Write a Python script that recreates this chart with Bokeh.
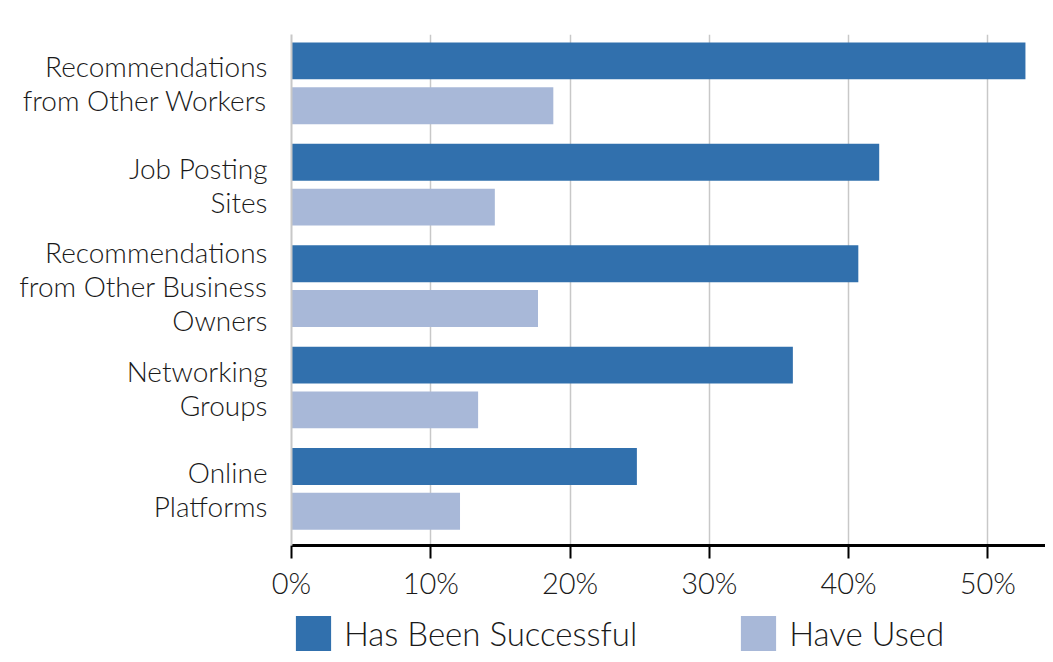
from bokeh.plotting import figure
from bokeh.layouts import column
from bokeh.models import ColumnDataSource, FixedTicker, Legend, LegendItem, Range1d
from bokeh.embed import file_html
from bokeh.resources import INLINE

# ---- data ----
categories = [
    "Recommendations\nfrom Other Workers",
    "Job Posting\nSites",
    "Recommendations\nfrom Other Business\nOwners",
    "Networking\nGroups",
    "Online\nPlatforms",
]
has_been_successful = [52.7, 42.2, 40.7, 36.0, 24.8]
have_used = [18.8, 14.6, 17.7, 13.4, 12.1]
x_ticks = [0, 10, 20, 30, 40, 50]
x_tick_labels = ["0%", "10%", "20%", "30%", "40%", "50%"]
series_names = ["Has Been Successful", "Have Used"]

DARK = "#3170ad"
LIGHT = "#a8b8d8"
FONT = "Lato Light"

pos = list(range(len(categories)))
offset = 0.221
bar_h = 0.364

src_dark = ColumnDataSource(dict(y=[p - offset for p in pos], v=has_been_successful))
src_light = ColumnDataSource(dict(y=[p + offset for p in pos], v=have_used))

p = figure(width=1045, height=602, output_backend="svg", toolbar_location=None,
           x_range=Range1d(0, 54.14), y_range=Range1d(4.558, -0.481),
           min_border_left=291, min_border_right=0, min_border_top=34,
           min_border_bottom=55)
p.outline_line_color = None
p.background_fill_color = "white"
p.border_fill_color = "white"

p.hbar(y="y", right="v", left=0, height=bar_h, source=src_dark,
       fill_color=DARK, line_color=None)
p.hbar(y="y", right="v", left=0, height=bar_h, source=src_light,
       fill_color=LIGHT, line_color=None)

# x axis
xa = p.xaxis[0]
xa.ticker = FixedTicker(ticks=x_ticks)
xa.major_label_overrides = {t: l for t, l in zip(x_ticks, x_tick_labels)}
xa.axis_line_color = "black"
xa.axis_line_width = 3
xa.major_tick_line_color = "black"
xa.major_tick_line_width = 2
xa.major_tick_in = 0
xa.major_tick_out = 13
xa.minor_tick_line_color = None
xa.major_label_standoff = 6
xa.major_label_text_font = FONT
xa.major_label_text_font_size = "29px"
xa.major_label_text_color = "#1a1a1a"

# y axis
ya = p.yaxis[0]
ya.ticker = FixedTicker(ticks=pos)
ya.major_label_overrides = {i: c for i, c in zip(pos, categories)}
ya.axis_line_color = "#c8c8c8"
ya.axis_line_width = 2
ya.major_tick_line_color = None
ya.minor_tick_line_color = None
ya.major_tick_in = 0
ya.major_tick_out = 0
ya.major_label_standoff = 24
ya.major_label_text_font = FONT
ya.major_label_text_font_size = "28px"
ya.major_label_text_color = "#1a1a1a"
ya.major_label_text_line_height = 1.0

p.xgrid.grid_line_color = "#c8c8c8"
p.xgrid.grid_line_width = 1.5
p.ygrid.grid_line_color = None

# legend strip below the chart (same series, drawn out of view, only the legend shows)
lf = figure(width=1045, height=52, output_backend="svg", toolbar_location=None,
            x_range=Range1d(0, 1), y_range=Range1d(100, 101),
            x_axis_type=None, y_axis_type=None,
            min_border_left=276, min_border_right=0, min_border_top=9,
            min_border_bottom=0)
lf.outline_line_color = None
lf.grid.visible = False
l1 = lf.hbar(y="y", right="v", left=0, height=bar_h, source=src_dark,
             fill_color=DARK, line_color=None)
l2 = lf.hbar(y="y", right="v", left=0, height=bar_h, source=src_light,
             fill_color=LIGHT, line_color=None)
legend = Legend(items=[LegendItem(label=series_names[0], renderers=[l1]),
                       LegendItem(label=series_names[1], renderers=[l2])],
                location="top_left", orientation="horizontal",
                glyph_width=44, glyph_height=44, label_standoff=9,
                label_height=40, padding=0, margin=0, spacing=99,
                border_line_color=None, background_fill_alpha=0,
                label_text_font=FONT, label_text_font_size="33px",
                label_text_color="#1a1a1a")
lf.add_layout(legend, "center")

layout = column(p, lf, spacing=0)
open("out.html", "w").write(file_html(layout, INLINE))
